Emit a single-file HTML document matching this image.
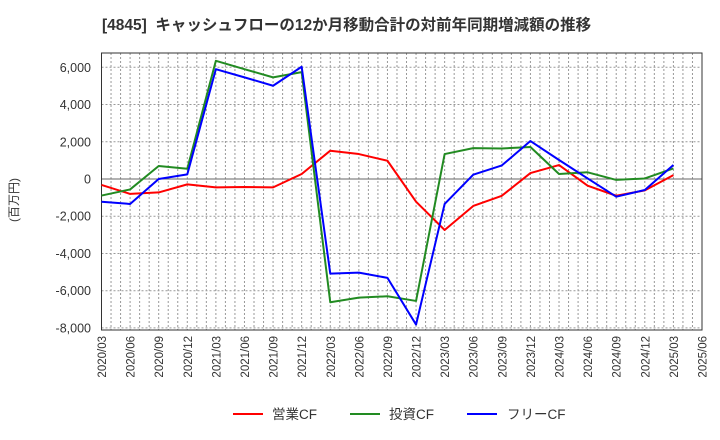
<!DOCTYPE html>
<html><head><meta charset="utf-8"><style>
body{margin:0;background:#fff;}
svg{display:block;font-family:"Liberation Sans","Noto Sans CJK JP",sans-serif;}
</style></head><body>
<svg id="c" width="720" height="440">
<text x="102" y="30" font-size="15.5" font-weight="bold" fill="#333" style="white-space:pre">[4845]  キャッシュフローの12か月移動合計の対前年同期増減額の推移</text>
<text transform="translate(18,200) rotate(-90)" font-size="12" fill="#333" text-anchor="middle">(百万円)</text>
<g id="grid"></g><g id="axes"></g><g id="series"></g>
<g>
<line x1="233" y1="414" x2="263" y2="414" stroke="#f00" stroke-width="2"/>
<text x="272" y="419" font-size="13.5" fill="#333">営業CF</text>
<line x1="350" y1="414" x2="380" y2="414" stroke="#228b22" stroke-width="2"/>
<text x="389" y="419" font-size="13.5" fill="#333">投資CF</text>
<line x1="467" y1="414" x2="497" y2="414" stroke="#00f" stroke-width="2"/>
<text x="507" y="419" font-size="13.5" fill="#333">フリーCF</text>
</g>
</svg>
<script>
const categories=["2020/03","2020/06","2020/09","2020/12","2021/03","2021/06","2021/09","2021/12","2022/03","2022/06","2022/09","2022/12","2023/03","2023/06","2023/09","2023/12","2024/03","2024/06","2024/09","2024/12","2025/03","2025/06"];
const operatingCF=[-320,-800,-720,-290,-450,-430,-450,270,1520,1340,980,-1220,-2740,-1450,-900,320,750,-360,-900,-610,210];
const investingCF=[-890,-560,700,550,6350,5900,5460,5740,-6620,-6370,-6300,-6550,1340,1660,1640,1720,270,360,-50,30,570];
const freeCF=[-1220,-1340,0,250,5900,5460,5010,6030,-5080,-5030,-5310,-7820,-1340,230,730,2040,1020,30,-950,-590,750];
const yTicks=[6000,4000,2000,0,-2000,-4000,-6000,-8000];
const L=101.5,R=702,T=53,B=330;
const n=categories.length-1;
const xs=i=>L+(R-L)*i/n;
const ys=v=>179-v*(179-67.3)/6000;
const NS="http://www.w3.org/2000/svg";
function mk(t,a,p){const e=document.createElementNS(NS,t);for(const k in a)e.setAttribute(k,a[k]);p.appendChild(e);return e;}
const grid=document.getElementById('grid'),axes=document.getElementById('axes'),ser=document.getElementById('series');
for(let m=1;m<n*3;m++){const x=L+(R-L)*m/(n*3);const l=mk('line',{x1:x,x2:x,y1:T,y2:B,stroke:'#999','stroke-width':1,'stroke-dasharray':'2,2'},grid);

}
yTicks.forEach(v=>{const y=ys(v);
const l=mk('line',{x1:L,x2:R,y1:y,y2:y,stroke:v===0?'#666':'#999','stroke-width':1,'stroke-dasharray':v===0?'':'2,2'},grid);


const t=mk('text',{x:91,y:y+4.5,'text-anchor':'end','font-size':12.5,fill:'#333'},axes);t.textContent=v.toLocaleString('en-US');

});
const fr=mk('rect',{x:L,y:T,width:R-L,height:B-T,fill:'none',stroke:'#333','stroke-width':1},axes);


categories.forEach((c,i)=>{const x=xs(i);const t=mk('text',{transform:`translate(${x+4.5},336) rotate(-90)`,'text-anchor':'end','font-size':11.5,fill:'#333'},axes);t.textContent=c;

});
[[operatingCF,'#f00','operating-cf-line'],[investingCF,'#228b22','investing-cf-line'],[freeCF,'#00f','free-cf-line']].forEach(([d,col,nm])=>{
const p=mk('polyline',{points:d.map((v,i)=>xs(i)+','+ys(v)).join(' '),fill:'none',stroke:col,'stroke-width':2,'stroke-linejoin':'round'},ser);

});
</script>
</body></html>
